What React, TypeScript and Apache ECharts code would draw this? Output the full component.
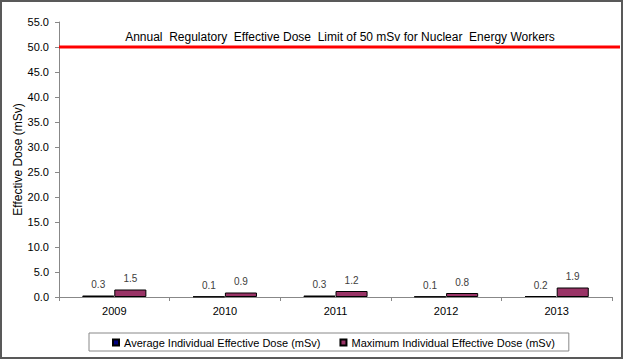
import React, { useEffect, useRef } from "react";
import * as echarts from "echarts";

const years = ["2009", "2010", "2011", "2012", "2013"];
const avgDose = [0.3, 0.1, 0.3, 0.1, 0.2];
const maxDose = [1.5, 0.9, 1.2, 0.8, 1.9];
const limitValue = 50;
const limitSpan = [0, 1];
const seriesNames = [
  "Average Individual Effective Dose (mSv)",
  "Maximum Individual Effective Dose (mSv)",
];
const limitText =
  "Annual  Regulatory  Effective Dose  Limit of 50 mSv for Nuclear  Energy Workers";
const yName = "Effective Dose (mSv)";

const FONT = "'Liberation Sans', Arial, sans-serif";

export default function App() {
  const ref = useRef<HTMLDivElement>(null);
  useEffect(() => {
    document.body.style.margin = "0";
    if (!ref.current) return;
    const chart = echarts.init(ref.current, null, { renderer: "svg" });
    const label = {
      show: true,
      position: "top",
      distance: 6,
      fontSize: 10,
      color: "#404040",
      fontFamily: FONT,
      formatter: (p: any) => Number(p.value).toFixed(1),
    };
    chart.setOption({
      animation: false,
      backgroundColor: "#ffffff",
      textStyle: { fontFamily: FONT },
      grid: [
        { left: 59, right: 14, top: 22, bottom: 64, containLabel: false, outerBoundsMode: "none" },
        { left: 59, right: 6, top: 22, bottom: 64, containLabel: false, outerBoundsMode: "none" },
      ],
      legend: {
        data: seriesNames,
        left: 89,
        top: 333,
        padding: [4, 14, 3, 23],
        itemGap: 19,
        itemWidth: 6,
        itemHeight: 6,
        icon: "rect",
        borderColor: "#888888",
        borderWidth: 1,
        textStyle: { fontSize: 11, color: "#000", fontFamily: FONT },
      },
      xAxis: [
        {
          type: "category",
          gridIndex: 0,
          data: years,
          axisLine: { show: true, lineStyle: { color: "#888888", width: 1 } },
          axisTick: { show: true, length: 4, lineStyle: { color: "#888888" } },
          axisLabel: { fontSize: 11, color: "#000", margin: 8, fontFamily: FONT },
        },
        { type: "value", gridIndex: 1, min: 0, max: 1, show: false },
      ],
      yAxis: [
        {
          type: "value",
          gridIndex: 0,
          min: 0,
          max: 55,
          interval: 5,
          name: yName,
          nameLocation: "middle",
          nameGap: 35,
          nameMoveOverlap: false,
          nameRotate: 90,
          nameTextStyle: { fontSize: 12, color: "#000", fontFamily: FONT },
          axisLine: { show: true, lineStyle: { color: "#888888", width: 1 } },
          axisTick: { show: true, length: 4, lineStyle: { color: "#888888" } },
          axisLabel: {
            fontSize: 11,
            color: "#000",
            margin: 10,
            fontFamily: FONT,
            formatter: (v: number) => v.toFixed(1),
          },
          splitLine: { show: false },
        },
        { type: "value", gridIndex: 1, min: 0, max: 55, show: false },
      ],
      series: [
        {
          name: seriesNames[0],
          type: "bar",
          data: avgDose,
          barGap: "0%",
          barCategoryGap: "42%",
          itemStyle: { color: "#000080", borderColor: "#000000", borderWidth: 1 },
          label,
        },
        {
          name: seriesNames[1],
          type: "bar",
          data: maxDose,
          barGap: "0%",
          barCategoryGap: "42%",
          itemStyle: { color: "#993366", borderColor: "#000000", borderWidth: 1 },
          label,
        },
        {
          name: "limit",
          type: "line",
          xAxisIndex: 1,
          yAxisIndex: 1,
          data: limitSpan.map((x) => [x, limitValue]),
          symbol: "none",
          silent: true,
          clip: false,
          lineStyle: { color: "#ff0000", width: 3 },
          z: 5,
        },
      ],
      graphic: [
        {
          type: "rect",
          shape: { x: 1, y: 1, width: 621, height: 357 },
          style: { fill: "none", stroke: "#595959", lineWidth: 2 },
          silent: true,
          z: 100,
        },
        {
          type: "text",
          x: 340,
          y: 37,
          style: {
            text: limitText,
            fontSize: 12,
            fill: "#000",
            fontFamily: FONT,
            textAlign: "center",
            textVerticalAlign: "middle",
          },
        },
      ],
    });
    return () => chart.dispose();
  }, []);
  return (
    <div
      ref={ref}
      style={{ width: 626, height: 361, position: "absolute", left: 0, top: 0 }}
    />
  );
}
